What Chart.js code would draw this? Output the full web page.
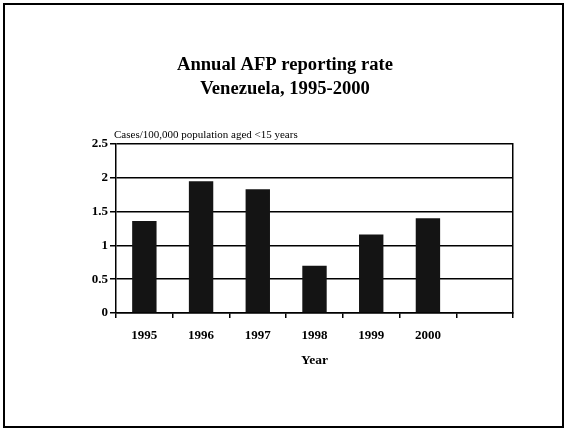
<!DOCTYPE html>
<html>
<head>
<meta charset="utf-8">
<script src="https://cdn.jsdelivr.net/npm/chart.js@4"></script>
<style>
  html, body { margin: 0; padding: 0; background: #fff; }
  #wrap { position: relative; width: 565px; height: 431px; }
  #frame { position: absolute; left: 3px; top: 3px; width: 561px; height: 425px; border: 2.5px solid #000; box-sizing: border-box; pointer-events: none; }
  canvas { position: absolute; left: 0; top: 0; }
</style>
</head>
<body>
<div id="wrap">
  <canvas id="c" width="565" height="431"></canvas>
  <div id="frame"></div>
</div>
<script>
const titleLines = ['Annual AFP reporting rate', 'Venezuela, 1995-2000'];
const categories = ['1995', '1996', '1997', '1998', '1999', '2000', ''];
const rates = [1.36, 1.95, 1.83, 0.70, 1.16, 1.40, null];
const yTicks = [0, 0.5, 1, 1.5, 2, 2.5];
const yAxisLabel = 'Cases/100,000 population aged <15 years';
const xAxisLabel = 'Year';

const SERIF = "'Liberation Serif', 'Times New Roman', serif";

const yLabelPlugin = {
  id: 'yLabel',
  afterDraw(chart) {
    const { ctx, chartArea } = chart;
    ctx.save();
    ctx.font = '11px ' + SERIF;
    ctx.fillStyle = '#000';
    ctx.textAlign = 'left';
    ctx.textBaseline = 'alphabetic';
    ctx.fillText(yAxisLabel, chartArea.left - 2, chartArea.top - 6);
    ctx.restore();
  }
};

new Chart(document.getElementById('c'), {
  type: 'bar',
  data: {
    labels: categories,
    datasets: [{
      data: rates,
      backgroundColor: '#141414',
      borderWidth: 0,
      categoryPercentage: 1,
      barPercentage: 0.43
    }]
  },
  options: {
    responsive: false,
    animation: false,
    devicePixelRatio: 1,
    layout: { padding: { left: 57, right: 52, top: 0, bottom: 62 } },
    plugins: {
      legend: { display: false },
      tooltip: { enabled: false },
      title: {
        display: true,
        text: titleLines,
        color: '#000',
        font: { family: SERIF, size: 18.6, weight: 'bold', lineHeight: 24 / 18.6 },
        padding: { top: 53, bottom: 43 }
      }
    },
    scales: {
      x: {
        offset: true,
        afterFit(scale) { scale.height = 56; },
        grid: { display: true, offset: true, drawOnChartArea: false, drawTicks: true, tickLength: 5, color: '#000', lineWidth: 1.5 },
        border: { display: true, color: '#000', width: 1.5 },
        ticks: { color: '#000', padding: 10, font: { family: SERIF, size: 13, weight: 'bold' }, maxRotation: 0, autoSkip: false },
        title: { display: true, text: xAxisLabel, color: '#000', padding: { top: 8, bottom: 0 }, font: { family: SERIF, size: 13.5, weight: 'bold' } }
      },
      y: {
        min: 0,
        max: 2.5,
        afterBuildTicks(scale) { scale.ticks = yTicks.map(v => ({ value: v })); },
        afterFit(scale) { scale.width = 59; },
        grid: { color: '#000', lineWidth: 1.5, drawTicks: true, tickLength: 6 },
        border: { display: true, color: '#000', width: 1.5 },
        ticks: { color: '#000', padding: 2, font: { family: SERIF, size: 13, weight: 'bold' }, callback: v => String(v) }
      },
      y2: {
        position: 'right',
        display: true,
        afterFit(scale) { scale.width = 0; },
        grid: { drawOnChartArea: false, drawTicks: false },
        border: { display: true, color: '#000', width: 1.5 },
        ticks: { display: false }
      }
    }
  },
  plugins: [yLabelPlugin]
});
</script>
</body>
</html>
